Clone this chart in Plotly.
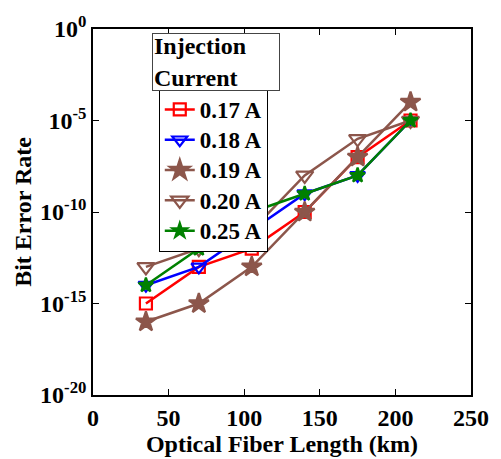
import plotly.graph_objects as go

# Fiber length (km) and measured BER for each injection current
length_km = [35, 70, 105, 140, 175, 210]
ber_017 = [1e-15, 1e-13, 1e-12, 1e-10, 1e-7, 1e-5]
ber_018 = [1e-14, 1e-13, 1e-11, 1e-9, 1e-8, 1e-5]
ber_019 = [1e-16, 1e-15, 1e-13, 1e-10, 1e-7, 1e-4]
ber_020 = [1e-13, 1e-12, 1e-11, 1e-8, 1e-6, 1e-5]
ber_025 = [1e-14, 1e-12, 1e-10, 1e-9, 1e-8, 1e-5]

series_names = ["0.17 A", "0.18 A", "0.19 A", "0.20 A", "0.25 A"]
y_tick_vals = [1e0, 1e-5, 1e-10, 1e-15, 1e-20]
y_tick_text = ["<b>10<sup>0</sup></b>", "<b>10<sup>-5</sup></b>", "<b>10<sup>-10</sup></b>",
               "<b>10<sup>-15</sup></b>", "<b>10<sup>-20</sup></b>"]
x_tick_vals = [0, 50, 100, 150, 200, 250]

FONT = "Liberation Serif"
FS = 24
BROWN = "#8c564b"

styles = [
    dict(color="#ff0000", symbol="square-open", size=12),
    dict(color="#0000ff", symbol="triangle-down-open", size=13),
    dict(color=BROWN, symbol="star", size=15),
    dict(color=BROWN, symbol="triangle-down-open", size=15),
    dict(color="#008000", symbol="star", size=11),
]
series = [ber_017, ber_018, ber_019, ber_020, ber_025]

fig = go.Figure()
for name, ys, st in zip(series_names, series, styles):
    fig.add_trace(go.Scatter(
        x=length_km, y=ys,
        name=f"<span style='font-size:23px'><b>{name}</b></span>",
        mode="lines+markers",
        line=dict(color=st["color"], width=2.5),
        marker=dict(symbol=st["symbol"], size=st["size"], color=st["color"],
                    line=dict(color=st["color"], width=2.2)),
    ))

axis_common = dict(
    showline=True, linecolor="black", linewidth=1.5, mirror="ticks",
    ticks="inside", ticklen=6, tickcolor="black", showgrid=False, zeroline=False,
    tickfont=dict(family=FONT, size=FS, color="black"),
)

fig.update_xaxes(
    range=[0, 250], tickvals=x_tick_vals,
    ticktext=[f"<b>{v}</b>" for v in x_tick_vals],
    title=dict(text="<b>Optical Fiber Length (km)</b>",
               font=dict(family=FONT, size=FS, color="black"), standoff=0),
    **axis_common,
)
fig.update_yaxes(
    type="log", range=[-20, 0], tickvals=y_tick_vals, ticktext=y_tick_text,
    title=dict(text="<b>Bit Error Rate</b>",
               font=dict(family=FONT, size=FS, color="black"), standoff=2),
    **axis_common,
)

fig.add_annotation(
    xref="paper", yref="paper", x=0.155, y=0.989, xanchor="left", yanchor="top",
    text="<b>Injection<br>Current</b>", align="left", showarrow=False,
    font=dict(family=FONT, size=FS, color="black"),
    bordercolor="#444", borderwidth=1, bgcolor="white", borderpad=1,
    width=124, height=54,
)

fig.update_layout(
    width=501, height=459,
    margin=dict(l=93, r=22, t=24, b=56),
    paper_bgcolor="white", plot_bgcolor="white",
    showlegend=True,
    legend=dict(
        x=0.174, y=0.838, xanchor="left", yanchor="top",
        bgcolor="white", bordercolor="black", borderwidth=1,
        font=dict(family=FONT, size=21, color="black"),
        itemwidth=30, tracegroupgap=0,
    ),
)

fig.write_html("out.html")
